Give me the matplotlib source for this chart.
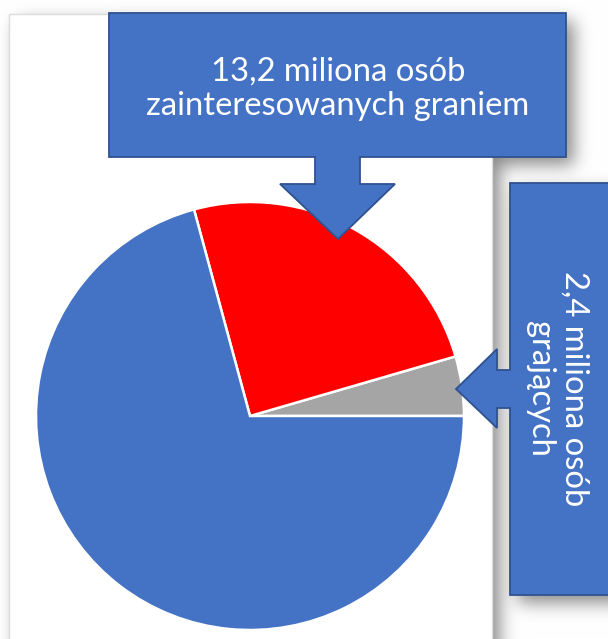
import numpy as np
import matplotlib.pyplot as plt
from matplotlib.patches import Polygon, Rectangle

# dane wykresu
labels = ['grający', 'zainteresowani graniem', 'pozostali']
values = [2.4, 13.2, 37.8]          # mln osób
colors = ['#A5A5A5', '#FF0000', '#4472C4']
top_text = '13,2 miliona osób\nzainteresowanych graniem'
side_text = '2,4 miliona osób\ngrających'

W, H = 608, 639
BOX = '#4472C4'
EDGE = '#2F528F'
FONT = ['Lato', 'DejaVu Sans']

fig = plt.figure(figsize=(W / 100, H / 100), dpi=100)

# --- tło z miękkim cieniem (piksele) ---
P = 60
mask = np.zeros((H + 2 * P, W + 2 * P))


def shadow_rect(x0, y0, x1, y1, off=8):
    mask[y0 + off + P:y1 + off + P, x0 + off + P:x1 + off + P] = 1


shadow_rect(9, 14, 492, 700)      # obszar wykresu
shadow_rect(109, 13, 566, 157)    # górna ramka
shadow_rect(510, 183, 700, 595)   # prawa ramka

sig = 8.5
t = np.arange(-4 * sig, 4 * sig + 1)
k = np.exp(-t ** 2 / (2 * sig ** 2))
k /= k.sum()
for ax_ in (0, 1):
    mask = np.apply_along_axis(lambda m: np.convolve(m, k, mode='same'), ax_, mask)
mask = mask[P:P + H, P:P + W]
bg = 1 - 0.45 * mask

ax_bg = fig.add_axes([0, 0, 1, 1])
ax_bg.imshow(np.dstack([bg, bg, bg]), extent=(0, W, H, 0), interpolation='bilinear')
ax_bg.add_patch(Rectangle((9, 14), 483, 700, facecolor='white', edgecolor='#dcdcdc', lw=1))
ax_bg.set_xlim(0, W)
ax_bg.set_ylim(H, 0)
ax_bg.axis('off')

# --- wykres kołowy ---
cx, cy, r = 250, 416, 214
ax = fig.add_axes([(cx - r) / W, 1 - (cy + r) / H, 2 * r / W, 2 * r / H])
ax.pie(values, colors=colors, startangle=0, counterclock=True,
       wedgeprops=dict(edgecolor='white', linewidth=1.8))
ax.set_xlim(-1, 1)
ax.set_ylim(-1, 1)
ax.axis('off')

# --- objaśnienia ze strzałkami ---
ov = fig.add_axes([0, 0, 1, 1])
ov.patch.set_visible(False)
ov.set_xlim(0, W)
ov.set_ylim(H, 0)
ov.axis('off')

top_callout = [(109, 13), (566, 13), (566, 157), (360, 157), (360, 184), (395, 184),
               (338, 239), (280, 184), (315, 184), (315, 157), (109, 157)]
side_callout = [(680, 183), (680, 595), (510, 595), (510, 408), (497, 408), (497, 428),
                (456, 389), (497, 349), (497, 370), (510, 370), (510, 183)]
for pts in (top_callout, side_callout):
    ov.add_patch(Polygon(pts, closed=True, facecolor=BOX, edgecolor=EDGE, lw=1.3))

ov.text(338, 89, top_text, ha='center', va='center', color='white',
        fontsize=23.6, family=FONT, linespacing=1.2)
ov.text(557, 389, side_text, ha='center', va='center', color='white',
        fontsize=23.6, family=FONT, rotation=-90, linespacing=1.2)

fig.savefig('out.png', dpi=100)
